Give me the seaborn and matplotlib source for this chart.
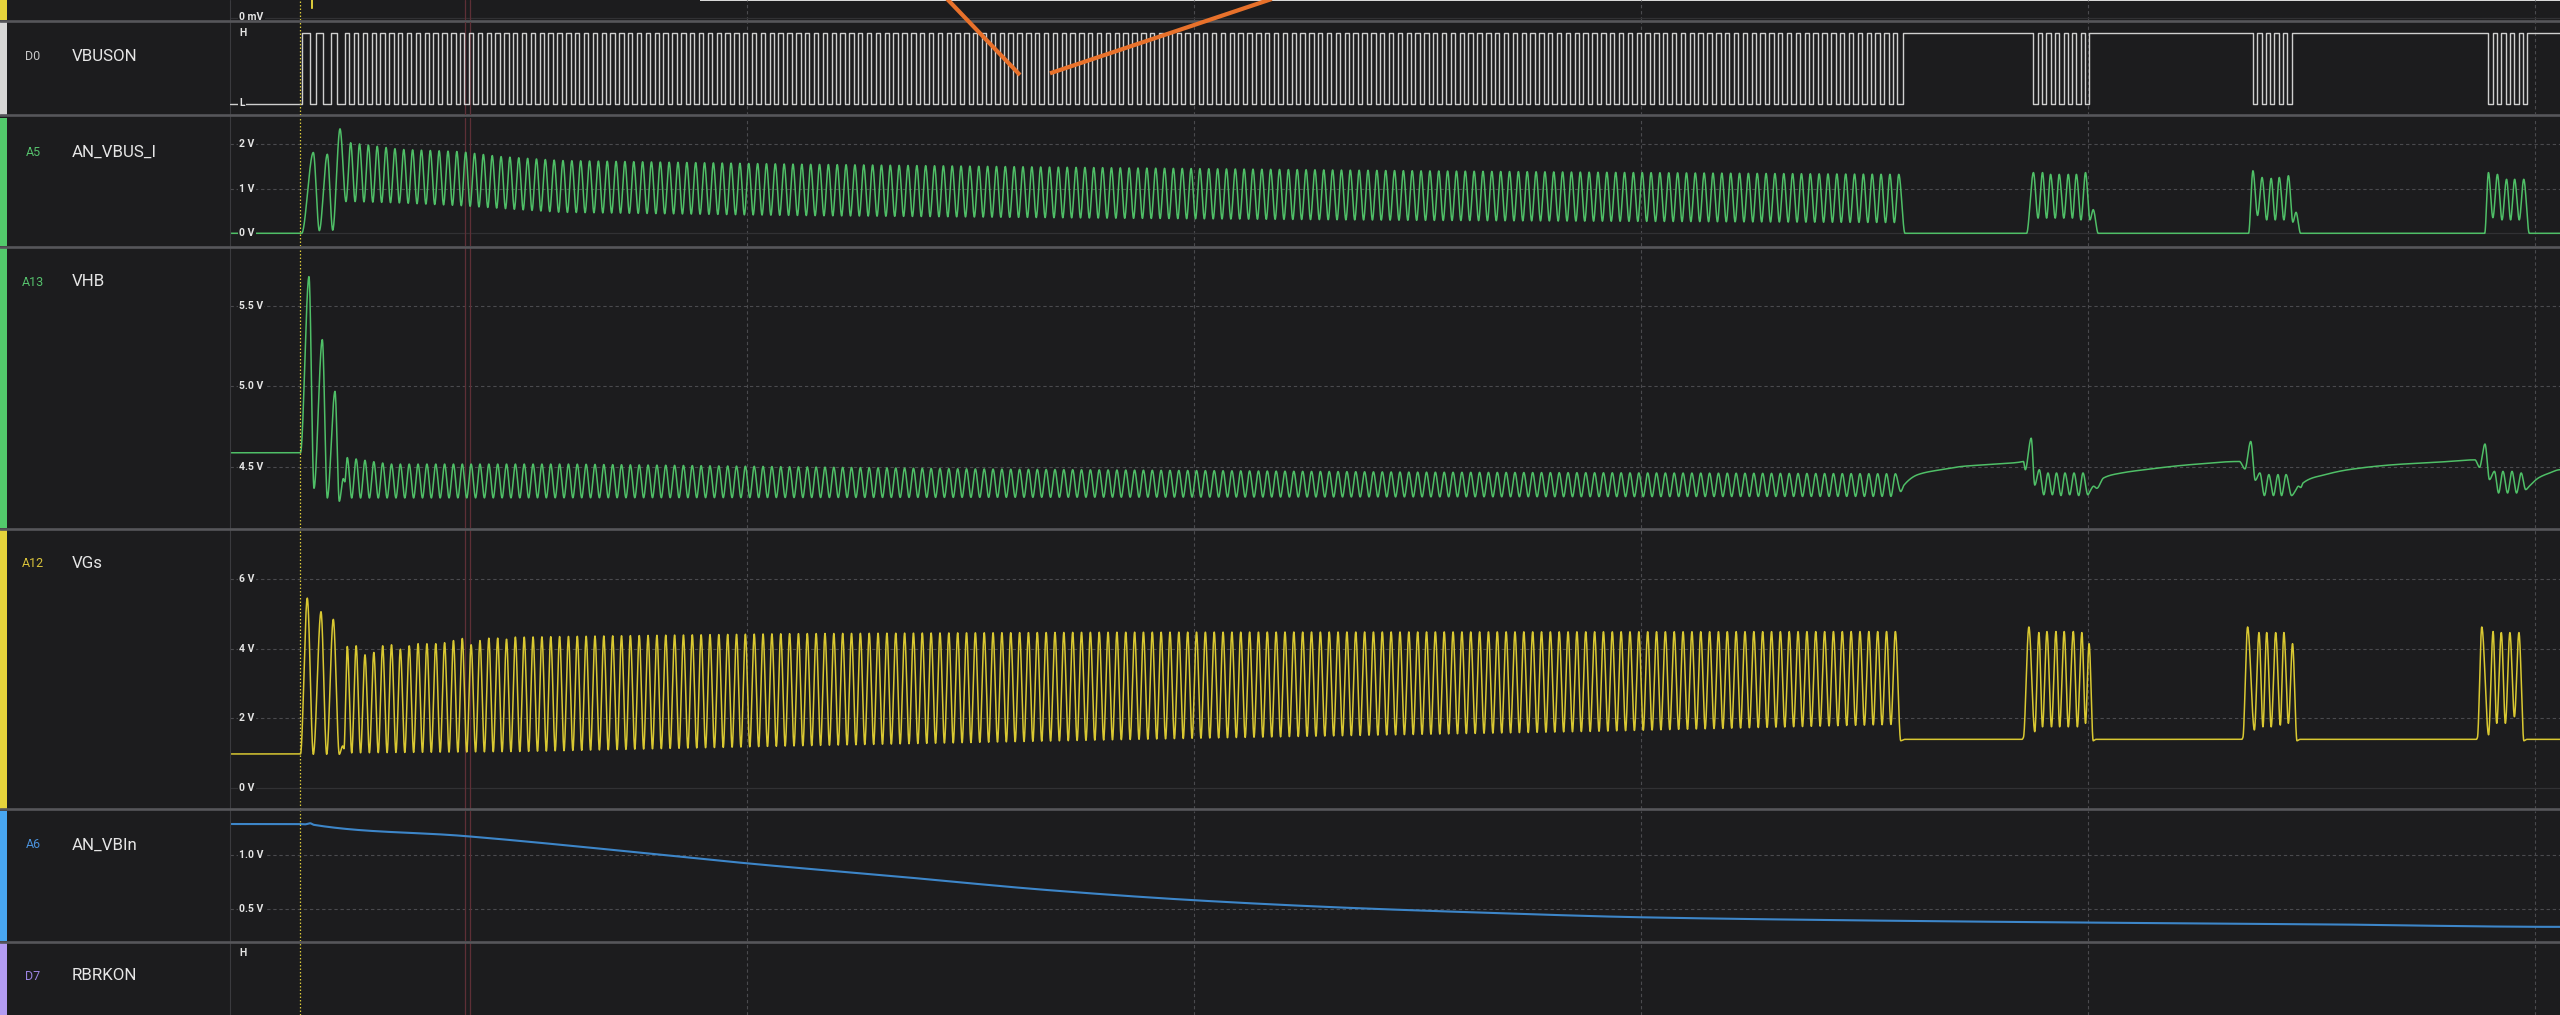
import numpy as np
import pandas as pd
import matplotlib
matplotlib.use("Agg")
import matplotlib.pyplot as plt
import matplotlib.transforms as mtransforms
from matplotlib.lines import Line2D
from matplotlib.patches import Rectangle
import seaborn as sns

# ------------------------------------------------------------------ data
# time axis in microseconds, trigger cursor at 0
T_START, T_END = -156.6, 5055.9
GRID_T = [1000, 2000, 3000, 4000, 5000]
TRIGGER_T = 0.0
CURSOR_T = [369.0, 380.0]

# main switching burst: one cycle per VGs peak
CYC_T0 = 105.8
CYC_P = 19.79
CYC_N = 176

# ---- D0 VBUSON (digital 0/1)
D0_PRE_T = [3.8, 22.4, 35.8, 52.1, 68.7, 82.1]
D0_PRE_V = [1, 0, 1, 0, 1, 0]
D0_HIGH_FROM = -5.1
D0_HIGH_TO = 4.6
D0_END_RISE = 3585.8
D0_BURST_LOW_T = [3877.9, 3897.1, 3916.3, 3935.6, 3954.8, 3974.1, 3993.3,
                  4369.0, 4388.2, 4407.5, 4426.7, 4446.0,
                  4895.8, 4915.0, 4934.3, 4953.5, 4972.8]
D0_LOW_LEN = 9.6

# ---- A5 AN_VBUS_I (V)
A5_PRE_T = [-156.6, 3.8, 29.8, 43.2, 61.1, 73.2, 89.5, 102.9]
A5_PRE_V = [0.0, 0.0, 1.81, 0.06, 1.77, 0.07, 2.34, 0.71]
A5_SHIFT = 7.6
A5_PEAK_ENV_T = [112, 224, 358, 447, 582, 1100, 1800, 2500, 3000, 3577]
A5_PEAK_ENV_V = [2.03, 1.88, 1.83, 1.72, 1.63, 1.55, 1.47, 1.40, 1.36, 1.32]
A5_TROUGH_ENV_T = [123, 224, 358, 447, 582, 1100, 1800, 2500, 3577]
A5_TROUGH_ENV_V = [0.71, 0.68, 0.62, 0.56, 0.47, 0.40, 0.34, 0.29, 0.24]
A5_POST_T = [3590.5, 3862.7, 3877.9, 3888.2, 3898.2, 3907.4, 3916.3, 3926.6, 3935.6, 3945.9,
             3955.9, 3965.1, 3974.0, 3984.3, 3994.4, 4004.4, 4011.6, 4022.8, 4359.2, 4369.0,
             4379.3, 4389.4, 4399.7, 4409.8, 4418.9, 4427.9, 4438.2, 4448.3, 4458.3, 4465.3,
             4475.6, 4887.5, 4895.8, 4905.8, 4915.9, 4926.2, 4936.3, 4945.4, 4954.4, 4964.7,
             4974.8, 4987.2, 5055.9]
A5_POST_V = [0.0, 0.0, 1.36, 0.34, 1.36, 0.34, 1.32, 0.34, 1.32, 0.34,
             1.32, 0.34, 1.32, 0.30, 1.36, 0.30, 0.53, 0.0, 0.0, 1.40,
             0.40, 1.25, 0.30, 1.23, 0.30, 1.25, 0.30, 1.29, 0.25, 0.47,
             0.0, 0.0, 1.36, 0.35, 1.32, 0.30, 1.21, 0.30, 1.21, 0.30,
             1.21, 0.0, 0.0]

# ---- A13 VHB (V)
VHB_PRE_T = [-156.6, 1.1, 20.1, 31.3, 49.9, 61.1, 78.3, 87.9, 96.9, 100.2]
VHB_PRE_V = [4.59, 4.59, 5.68, 4.37, 5.29, 4.31, 4.97, 4.29, 4.43, 4.41]
VHB_PEAK_ENV_T = [105.8, 200, 600, 1500, 2500, 3570]
VHB_PEAK_ENV_V = [4.56, 4.52, 4.52, 4.49, 4.47, 4.46]
VHB_TROUGH_ENV_T = [115, 3560]
VHB_TROUGH_ENV_V = [4.31, 4.32]
VHB_POST_T = [3581.0, 3588.4, 3619.7, 3670.3, 3720.3, 3771.7, 3842.5, 3855.6, 3859.7, 3872.9,
              3880.9, 3891.0, 3901.1, 3910.5, 3920.3, 3929.5, 3939.6, 3948.5, 3959.0, 3968.7,
              3979.2, 3988.8, 3999.6, 4004.4, 4012.7, 4019.6, 4034.8, 4075.3, 4126.1, 4227.4,
              4338.8, 4351.1, 4364.1, 4374.2, 4384.5, 4394.6, 4404.6, 4414.9, 4425.0, 4433.0,
              4443.1, 4455.4, 4463.5, 4470.7, 4476.0, 4481.0, 4531.3, 4582.1, 4683.4, 4784.8,
              4865.7, 4875.8, 4888.1, 4898.1, 4909.3, 4918.5, 4928.3, 4938.6, 4948.5, 4958.7,
              4969.0, 4979.1, 4987.2, 5007.5, 5032.8, 5055.9]
VHB_POST_V = [4.35, 4.39, 4.455, 4.485, 4.506, 4.516, 4.53, 4.536, 4.485, 4.68,
              4.39, 4.485, 4.33, 4.465, 4.33, 4.465, 4.325, 4.465, 4.33, 4.465,
              4.325, 4.465, 4.33, 4.352, 4.383, 4.37, 4.434, 4.465, 4.485, 4.516,
              4.536, 4.49, 4.66, 4.42, 4.465, 4.325, 4.455, 4.325, 4.455, 4.325,
              4.455, 4.325, 4.352, 4.383, 4.375, 4.403, 4.455, 4.485, 4.516, 4.532,
              4.546, 4.50, 4.644, 4.424, 4.475, 4.341, 4.475, 4.341, 4.475, 4.341,
              4.465, 4.362, 4.383, 4.434, 4.465, 4.485]

# ---- A12 VGs (V)
VGS_PRE_T = [-156.6, 1.1, 16.3, 29.8, 47.0, 59.7, 74.5, 87.9, 95.5, 98.4]
VGS_PRE_V = [0.97, 0.97, 5.45, 0.96, 5.06, 0.96, 4.84, 0.96, 1.20, 1.12]
VGS_FIRST_PEAKS = [4.06, 4.08, 3.82, 3.89, 4.08, 4.11, 3.98, 4.08, 4.14, 4.14,
                   4.14, 4.17, 4.23, 4.29, 4.11, 4.23, 4.30, 4.30, 4.27, 4.33]
VGS_PEAK_ENV_T = [500, 600, 1100, 1800, 3570]
VGS_PEAK_ENV_V = [4.33, 4.35, 4.43, 4.47, 4.49]
VGS_TROUGH_ENV_T = [110, 500, 1100, 2000, 2900, 3570]
VGS_TROUGH_ENV_V = [1.00, 1.04, 1.20, 1.42, 1.62, 1.82]
VGS_POST_T = [3581.0, 3590.5, 3852.3, 3855.6, 3867.7, 3880.9, 3890.1, 3898.2, 3908.2, 3918.3,
              3928.3, 3936.6, 3946.7, 3955.9, 3967.1, 3976.2, 3986.3, 3994.4, 4002.4, 4011.6,
              4017.9, 4344.0, 4346.6, 4357.0, 4372.2, 4382.5, 4391.4, 4399.7, 4409.8, 4419.9,
              4430.2, 4438.2, 4448.3, 4457.5, 4467.5, 4474.2, 4868.8, 4871.3, 4880.9, 4896.1,
              4906.2, 4914.3, 4924.6, 4933.7, 4943.8, 4953.9, 4964.0, 4975.1, 4982.0, 5055.9]
VGS_POST_V = [1.35, 1.39, 1.39, 1.45, 4.62, 1.61, 4.46, 1.75, 4.49, 1.75,
              4.49, 1.75, 4.49, 1.75, 4.49, 1.75, 4.46, 1.85, 4.14, 1.35,
              1.39, 1.39, 1.45, 4.62, 1.66, 4.46, 1.75, 4.46, 1.75, 4.46,
              1.80, 4.46, 1.85, 4.14, 1.35, 1.39, 1.39, 1.45, 4.62, 1.52,
              4.49, 1.85, 4.46, 1.85, 4.46, 2.04, 4.46, 1.35, 1.39, 1.39]

# ---- A6 AN_VBIn (V)
A6_T = [-156.6, 0.0, 11.2, 22.4, 31.3, 369.1, 774, 1000, 1340, 1671, 1998, 2335,
        2669, 2996, 3499, 3998, 4497, 5055.9]
A6_V = [1.293, 1.293, 1.29, 1.30, 1.285, 1.18, 1.02, 0.925, 0.80, 0.675, 0.58, 0.51,
        0.46, 0.42, 0.39, 0.37, 0.355, 0.33]

# ---- D7 RBRKON (digital, low all along -> below the visible strip)
D7_T = [T_START, T_END]
D7_V = [0, 0]

# ---- channel above (only its 0 mV line and a glimpse of a spike visible)
TOP_T = [T_START, 25.4, 26.8, 28.2, T_END]
TOP_V = [40.0, 40.0, 9.2, 40.0, 40.0]

# labels
CH_IDS = ["D0", "A5", "A13", "A12", "A6", "D7"]
CH_NAMES = ["VBUSON", "AN_VBUS_I", "VHB", "VGs", "AN_VBIn", "RBRKON"]
TOP_TICKS, TOP_LABELS = [0], ["0 mV"]
D0_TICKS, D0_LABELS = [1, 0], ["H", "L"]
A5_TICKS, A5_LABELS = [2, 1, 0], ["2 V", "1 V", "0 V"]
VHB_TICKS, VHB_LABELS = [5.5, 5.0, 4.5], ["5.5 V", "5.0 V", "4.5 V"]
VGS_TICKS, VGS_LABELS = [6, 4, 2, 0], ["6 V", "4 V", "2 V", "0 V"]
A6_TICKS, A6_LABELS = [1.0, 0.5], ["1.0 V", "0.5 V"]
D7_TICKS, D7_LABELS = [1], ["H"]

# annotation strokes (orange arrows), in D0 data coordinates
ARROW1_T, ARROW1_V = [1439.0, 1610.7], [1.54, 0.404]
ARROW2_T, ARROW2_V = [2201.0, 1677.8], [1.54, 0.428]

for a, b in [(A5_POST_T, A5_POST_V), (VHB_POST_T, VHB_POST_V), (VGS_POST_T, VGS_POST_V), (A6_T, A6_V)]:
    assert len(a) == len(b)

# ------------------------------------------------------------------ helpers
def pchip(x, y, xq):
    x = np.asarray(x, float); y = np.asarray(y, float)
    h = np.diff(x); d = np.diff(y) / h
    m = np.zeros_like(y)
    w1 = 2 * h[1:] + h[:-1]; w2 = h[1:] + 2 * h[:-1]
    same = d[:-1] * d[1:] > 0
    with np.errstate(divide="ignore", invalid="ignore"):
        hm = (w1 + w2) / (w1 / d[:-1] + w2 / d[1:])
    m[1:-1] = np.where(same, hm, 0.0)
    i = np.clip(np.searchsorted(x, xq, side="right") - 1, 0, len(x) - 2)
    hh = h[i]; s = (xq - x[i]) / hh
    h00 = 2 * s**3 - 3 * s**2 + 1; h10 = s**3 - 2 * s**2 + s
    h01 = -2 * s**3 + 3 * s**2; h11 = s**3 - s**2
    return h00 * y[i] + h10 * hh * m[i] + h01 * y[i + 1] + h11 * hh * m[i + 1]


def chain(*pairs):
    t = np.concatenate([np.asarray(p[0], float) for p in pairs])
    v = np.concatenate([np.asarray(p[1], float) for p in pairs])
    o = np.argsort(t, kind="stable")
    return t[o], v[o]


GRID = np.append(np.arange(T_START, T_END, 0.35), T_END)
CYC = CYC_T0 + CYC_P * np.arange(CYC_N)
HALF = CYC_P / 2.0

# VGs vertices
vg_pk_v = np.concatenate([VGS_FIRST_PEAKS,
                          np.interp(CYC[len(VGS_FIRST_PEAKS):], VGS_PEAK_ENV_T, VGS_PEAK_ENV_V)])
vg_tr_t = CYC[:-1] + HALF
vg_t, vg_v = chain((VGS_PRE_T, VGS_PRE_V), (CYC, vg_pk_v),
                   (vg_tr_t, np.interp(vg_tr_t, VGS_TROUGH_ENV_T, VGS_TROUGH_ENV_V)),
                   (VGS_POST_T, VGS_POST_V))
# A5 vertices
a5_pk_t = CYC + A5_SHIFT
a5_tr_t = CYC[:-1] + A5_SHIFT + HALF
a5_t, a5_v = chain((A5_PRE_T, A5_PRE_V),
                   (a5_pk_t, np.interp(a5_pk_t, A5_PEAK_ENV_T, A5_PEAK_ENV_V)),
                   (a5_tr_t, np.interp(a5_tr_t, A5_TROUGH_ENV_T, A5_TROUGH_ENV_V)),
                   (A5_POST_T, A5_POST_V))
# VHB vertices
hb_tr_t = CYC[:-1] + HALF
hb_t, hb_v = chain((VHB_PRE_T, VHB_PRE_V),
                   (CYC, np.interp(CYC, VHB_PEAK_ENV_T, VHB_PEAK_ENV_V)),
                   (hb_tr_t, np.interp(hb_tr_t, VHB_TROUGH_ENV_T, VHB_TROUGH_ENV_V)),
                   (VHB_POST_T, VHB_POST_V))

df_vgs = pd.DataFrame({"t": GRID, "v": pchip(vg_t, vg_v, GRID)})
df_a5 = pd.DataFrame({"t": GRID, "v": pchip(a5_t, a5_v, GRID)})
df_vhb = pd.DataFrame({"t": GRID, "v": pchip(hb_t, hb_v, GRID)})
df_a6 = pd.DataFrame({"t": GRID, "v": pchip(A6_T, A6_V, GRID)})
df_top = pd.DataFrame({"t": TOP_T, "v": TOP_V})

# D0 digital edges -> step vertices
edges = list(zip(D0_PRE_T, D0_PRE_V))
for c in CYC:
    edges += [(c + D0_HIGH_FROM, 1), (c + D0_HIGH_TO, 0)]
edges.append((D0_END_RISE, 1))
for s in D0_BURST_LOW_T:
    edges += [(s, 0), (s + D0_LOW_LEN, 1)]
st, sv, lvl = [T_START], [0], 0
for t, v in edges:
    st += [t, t]; sv += [lvl, v]; lvl = v
st.append(T_END); sv.append(lvl)
df_d0 = pd.DataFrame({"t": st, "v": sv})
df_d7 = pd.DataFrame({"t": D7_T, "v": D7_V})

# ------------------------------------------------------------------ style
BG = "#1c1c1e"
GRIDC = "#4a4a4e"
SEPC = "#56565a"
sns.set_theme(style="dark", rc={"axes.facecolor": BG, "figure.facecolor": BG})
plt.rcParams["font.family"] = ["Roboto", "DejaVu Sans"]

W, H = 2560, 1015
X0 = 230
fig = plt.figure(figsize=(W / 100, H / 100), dpi=100)
fig.patch.set_facecolor(BG)


def fx(px):
    return px / W


def fy(py):
    return 1 - py / H


def make_ax(top, bot, v1, p1, v2, p2, z=0):
    ax = fig.add_axes([X0 / W, 1 - bot / H, (W - X0) / W, (bot - top) / H], zorder=z)
    s = (v1 - v2) / (p2 - p1)
    ax.set_xlim(T_START, T_END)
    ax.set_ylim(v1 - (bot - p1) * s, v1 + (p1 - top) * s)
    ax.set_axis_off()
    for t in GRID_T:
        ax.axvline(t, color=GRIDC, lw=0.8, ls=(0, (3, 2.5)), zorder=1)
    for t in CURSOR_T:
        ax.axvline(t, color="#5e2f36", lw=0.9, zorder=1.5)
    ax.axvline(TRIGGER_T, color="#d8c83a", lw=0.9, ls=(0, (1.2, 1.6)), zorder=5)
    return ax


def ticks(ax, vals, labs, dashed=True, zero_line=True):
    tr = mtransforms.blended_transform_factory(ax.transAxes, ax.transData)
    for v, lab in zip(vals, labs):
        if dashed:
            if v == 0 and zero_line:
                ax.axhline(v, color="#313134", lw=0.9, zorder=1)
            else:
                ax.axhline(v, color=GRIDC, lw=0.8, ls=(0, (3, 2.5)), zorder=1)
        ax.text((239 - X0) / (W - X0), v, lab, transform=tr, fontsize=7.5,
                fontweight="bold", color="#e4e4e4", ha="left", va="center", zorder=6,
                bbox=dict(boxstyle="square,pad=0.12", fc=BG, ec="none"))


def trace(ax, df, color, lw=1.1):
    sns.lineplot(data=df, x="t", y="v", ax=ax, color=color, linewidth=lw,
                 estimator=None, sort=False, legend=False, zorder=3)
    ax.set_axis_off()
    ax.set_xlim(T_START, T_END)


ax_top = make_ax(0, 19.5, 0.0, 17.5, -1.0, 18.5)
ax_d0 = make_ax(21.5, 114.5, 1, 33, 0, 103.5, z=1)
ax_a5 = make_ax(117.5, 245.5, 2, 144, 0, 233.3)
ax_hb = make_ax(248, 527.5, 5.5, 305.7, 4.5, 467.3)
ax_vg = make_ax(530, 808.5, 6, 579, 0, 787.7)
ax_a6 = make_ax(811, 940.5, 1.0, 855.3, 0.5, 908.7)
ax_d7 = make_ax(943, 1015, 1, 953.3, 0, 1023.8)

trace(ax_top, df_top, "#d8c83a")
trace(ax_d0, df_d0, "#cfcfcf", lw=1.0)
trace(ax_a5, df_a5, "#4fbf67")
trace(ax_hb, df_vhb, "#4fbf67")
trace(ax_vg, df_vgs, "#d9c832")
trace(ax_a6, df_a6, "#3d86c9", lw=1.5)
trace(ax_d7, df_d7, "#d0d0d0", lw=1.0)

ticks(ax_top, TOP_TICKS, TOP_LABELS)
ticks(ax_d0, D0_TICKS, D0_LABELS, dashed=False)
ticks(ax_a5, A5_TICKS, A5_LABELS)
ticks(ax_hb, VHB_TICKS, VHB_LABELS)
ticks(ax_vg, VGS_TICKS, VGS_LABELS)
ticks(ax_a6, A6_TICKS, A6_LABELS)
ticks(ax_d7, D7_TICKS, D7_LABELS, dashed=False)

# orange annotation strokes
for tt, vv in [(ARROW1_T, ARROW1_V), (ARROW2_T, ARROW2_V)]:
    ax_d0.plot(tt, vv, color="#e8712b", lw=3.0, solid_capstyle="butt",
               clip_on=False, zorder=8)

# ------------------------------------------------------------------ frame / label column
fig.add_artist(Rectangle((fx(700), fy(1.2)), 1 - fx(700), 1.2 / H, transform=fig.transFigure,
                         fc="#d8d8d8", ec="none", zorder=-1))
bars = [(0, 19.5, "#e6d33b"), (21.5, 114.5, "#d6d6d6"), (117.5, 245.5, "#52c96b"),
        (248, 527.5, "#52c96b"), (530, 808.5, "#e6d33b"), (811, 940.5, "#48a6f0"),
        (943, 1015, "#b39cf2")]
for top, bot, c in bars:
    fig.add_artist(Rectangle((0, fy(bot)), fx(7), (bot - top) / H, transform=fig.transFigure,
                             fc=c, ec="none", zorder=0.6))
fig.add_artist(Line2D([fx(X0), fx(X0)], [0, 1], transform=fig.transFigure,
                      color="#3a3a3e", lw=0.8, zorder=0.5))
for y in [20.7, 115.4, 246.8, 528.6, 809.4, 941.6]:
    fig.add_artist(Line2D([0, 1], [fy(y), fy(y)], transform=fig.transFigure,
                          color=SEPC, lw=1.9, zorder=0.7))

ID_COLORS = ["#c8c8c8", "#55c06c", "#55c06c", "#d8c23a", "#4a90d9", "#9c84e2"]
LABEL_Y = [56.5, 152.0, 282.0, 563.5, 845.0, 976.0]
for cid, name, c, y in zip(CH_IDS, CH_NAMES, ID_COLORS, LABEL_Y):
    fig.text(fx(33), fy(y), cid, color=c, fontsize=9.0, ha="center", va="center")
    fig.text(fx(72), fy(y), name, color="#e6e6e6", fontsize=12.2, ha="left", va="center")

fig.savefig("out.png", dpi=100, facecolor=BG)
